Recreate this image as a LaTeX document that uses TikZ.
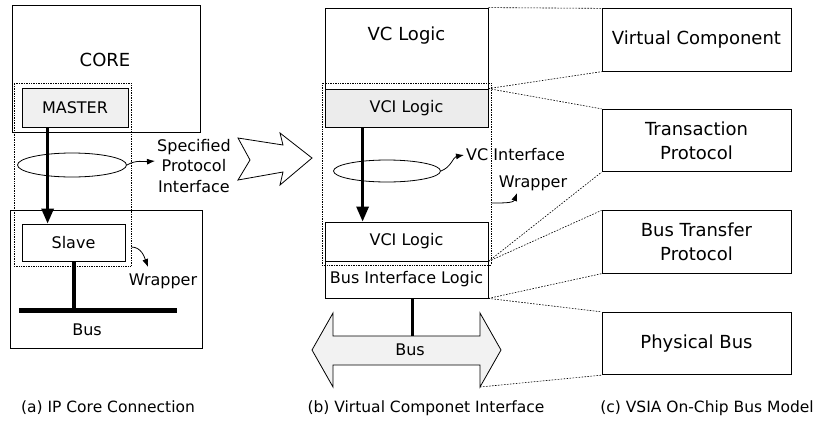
\documentclass[tikz,border=0pt]{standalone}
\usepackage{fontspec}
\setmainfont{DejaVu Sans}
\usetikzlibrary{arrows.meta,shapes.geometric,calc}
\begin{document}
\begin{tikzpicture}[x=1pt,y=1pt,
  box/.style={draw,line width=0.8pt,inner sep=0pt,font=\fontsize{16}{19}\selectfont},
  layer/.style={draw,line width=0.8pt,minimum width=189pt,minimum height=62.5pt,inner sep=0pt,align=center,font=\fontsize{18}{24}\selectfont},
  wrapbox/.style={draw,densely dotted,line width=0.7pt,inner sep=0pt},
  label/.style={inner sep=0pt,font=\fontsize{16}{20.5}\selectfont},
  caption/.style={inner sep=0pt,font=\fontsize{15.5}{18}\selectfont},
  ring/.style={draw,ellipse,line width=0.8pt,inner sep=0pt},
  bigarrow/.style={line width=3pt,-{Triangle[width=12pt,length=15pt]}},
  hint/.style={line width=0.8pt,-{Latex[length=8pt,width=6pt]}},
  guide/.style={line width=0.6pt,dash pattern=on 1.6pt off 1.4pt},
  busline/.style={line width=5pt}
]
\useasboundingbox (0,0) rectangle (816,-426);

% ---------- (a) IP core connection ----------
\node[box,minimum width=188pt,minimum height=127pt] (core) at (106,-68.5) {};
\node[label,font=\fontsize{18}{20}\selectfont] (coretext) at (105,-60) {CORE};
\node[box,fill=gray!12,minimum width=106pt,minimum height=39pt] (master) at (75,-107.5) {MASTER};
\node[box,minimum width=192pt,minimum height=138pt] (ipbox) at (106,-279) {};
\node[box,minimum width=103pt,minimum height=37pt] (slave) at (73.5,-242.5) {Slave};
\node[wrapbox,minimum width=117pt,minimum height=183pt] (wrapA) at (72.5,-174.5) {};
\node[ring,minimum width=109pt,minimum height=24pt] (ringA) at (72,-165) {};
\node[label,align=center,anchor=west] (spi) at (157,-166) {Specified\\Protocol\\Interface};
\node[label] (wrapAtext) at (163,-281) {Wrapper};
\node[label] (busAtext) at (87,-330) {Bus};
\coordinate (busAjoin) at (73.5,-310);
\coordinate (wrapAtip) at (148,-267);
\draw[busline] (19,-310) -- (177,-310);
\draw[line width=4pt] (slave.south) -- (busAjoin);
\draw[bigarrow] ([xshift=26pt]master.south west) -- ([xshift=26pt]slave.north west);
\draw[hint] (ringA.east) to[out=30,in=185] ([xshift=-2pt,yshift=5pt]spi.west);
\draw[hint] ([yshift=-72.5pt]wrapA.east) to[out=0,in=110] (wrapAtip);

% hollow arrow from (a) to (b)
\draw[line width=0.8pt,fill=white] (238,-138) -- (283,-145) -- (280,-133) -- (312,-158)
  -- (280,-185) -- (283,-172) -- (238,-180) -- (250,-160) -- cycle;

% ---------- (b) virtual component interface ----------
\node[box,minimum width=163pt,minimum height=81pt] (vclogic) at (406.5,-48.5) {};
\node[label,font=\fontsize{18}{20}\selectfont] (vclogictext) at (406.5,-36) {VC Logic};
\node[box,fill=gray!15,minimum width=163pt,minimum height=38pt] (vciA) at (406.5,-108) {VCI Logic};
\node[box,minimum width=163pt,minimum height=39pt] (vciB) at (406.5,-241.5) {VCI Logic};
\node[box,minimum width=163pt,minimum height=37pt] (busif) at (406.5,-279.5) {Bus Interface Logic};
\node[wrapbox,minimum width=169pt,minimum height=182pt] (wrapB) at (406.5,-174) {};
\node[ring,minimum width=107pt,minimum height=22pt] (ringB) at (387,-171) {};
\node[label,anchor=west] (vcif) at (466,-155) {VC Interface};
\node[label] (wrapBtext) at (533,-183) {Wrapper};
\coordinate (wrapBtip) at (517,-193);
\draw[bigarrow] ([xshift=38pt]vciA.south west) -- ([xshift=38pt]vciB.north west);
\draw[hint] (ringB.east) to[out=20,in=190] ([xshift=-2pt]vcif.west);
\draw[hint] ([yshift=-29pt]wrapB.east) to[out=0,in=250] (wrapBtip);

% double-headed bus
\draw[line width=0.8pt,fill=gray!10] (312,-350) -- (333,-313) -- (333,-336) -- (480,-336)
  -- (480,-313) -- (501,-350) -- (480,-387) -- (480,-365) -- (333,-365) -- (333,-387) -- cycle;
\coordinate (busBtop) at (412,-336);
\coordinate (busBcorner) at (480,-387);
\node[label] (busBtext) at (410,-350) {Bus};
\draw[line width=3pt] ([xshift=5.5pt]busif.south) -- (busBtop);

% ---------- (c) VSIA on-chip bus model ----------
\node[layer] (vc) at (696.5,-40) {Virtual Component};
\node[layer] (tp) at (696.5,-140.5) {Transaction\\Protocol};
\node[layer] (btp) at (696.5,-242) {Bus Transfer\\Protocol};
\node[layer] (pb) at (696.5,-343.5) {Physical Bus};

\draw[guide] (vclogic.north east) -- (vc.north west);
\draw[guide] (vciA.north east) -- (vc.south west);
\draw[guide] (vciA.north east) -- (tp.north west);
\draw[guide] (vciB.south east) -- (tp.south west);
\draw[guide] (vciB.south east) -- (btp.north west);
\draw[guide] (busif.south east) -- (btp.south west);
\draw[guide] (busif.south east) -- (pb.north west);
\draw[guide] (busBcorner) -- (pb.south west);

% captions
\node[caption] (capA) at (108,-408) {(a) IP Core Connection};
\node[caption] (capB) at (426,-408) {(b) Virtual Componet Interface};
\node[caption] (capC) at (707,-408) {(c) VSIA On-Chip Bus Model};
\end{tikzpicture}
\end{document}
